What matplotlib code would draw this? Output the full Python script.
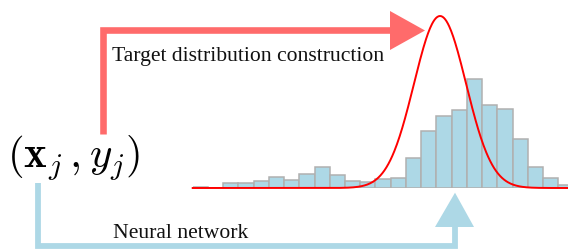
import numpy as np
import matplotlib
matplotlib.use("Agg")
import matplotlib.pyplot as plt
from matplotlib.patches import Polygon

# ---- data ----
bin_index = list(range(25))
counts = [0.7, 0.0, 5.0, 4.7, 6.7, 10.7, 8.0, 14.0, 21.3, 12.7, 7.0, 5.7, 9.0,
          10.0, 30.0, 56.7, 71.7, 77.7, 108.7, 82.7, 79.0, 48.7, 21.0, 10.0, 3.0]
target_mu = 16.24
target_sigma = 1.71
target_peak = 172.0
label_target = "Target distribution construction"
label_net = "Neural network"
label_input = r"$(\mathbf{x}_j\,, y_j)$"

plt.rcParams['mathtext.fontset'] = 'cm'

W, H = 568, 249
fig = plt.figure(figsize=(W / 100, H / 100), dpi=100)
bg = fig.add_axes([0, 0, 1, 1])
bg.set_xlim(0, W)
bg.set_ylim(H, 0)
bg.axis('off')

red_arrow = '#ff6b6b'
blue_arrow = '#add8e6'

# red arrow (target construction)
bg.plot([102.7, 102.7, 392], [134, 30, 30], color=red_arrow, lw=6.6 * 0.72,
        solid_joinstyle='miter', solid_capstyle='butt')
bg.add_patch(Polygon([[390, 11], [425, 30.5], [390, 50]], closed=True,
                     facecolor=red_arrow, edgecolor='none'))

# blue arrow (neural network)
bg.plot([38, 38, 454.5, 454.5], [183, 246.3, 246.3, 225], color=blue_arrow,
        lw=5.8 * 0.72, solid_joinstyle='miter', solid_capstyle='butt')
bg.add_patch(Polygon([[435, 227], [455, 192.7], [474, 227]], closed=True,
                     facecolor=blue_arrow, edgecolor='none'))

serif = ['Liberation Serif', 'DejaVu Serif']
bg.text(112, 60.5, label_target, family=serif, fontsize=15.6, ha='left',
        va='baseline', color='#111111')
bg.text(113, 237.5, label_net, family=serif, fontsize=15.6, ha='left',
        va='baseline', color='#111111')
bg.text(7, 168, label_input, fontsize=31, ha='left', va='baseline', color='black')

# histogram + target curve
x0, bw, base = 192.7, 15.23, 188.0
hx = fig.add_axes([x0 / W, (H - base) / H, (W - x0) / W, base / H])
hx.set_xlim(0, (W - x0) / bw)
hx.set_ylim(0, base)
hx.axis('off')
hx.bar(np.array(bin_index), counts, width=1.0, align='edge', color='#add8e6',
       edgecolor='#b0b0b0', linewidth=1.1, zorder=1)
xs = np.linspace(0, 26, 600)
ys = target_peak * np.exp(-0.5 * ((xs - target_mu) / target_sigma) ** 2)
hx.plot(xs, ys, color='red', lw=1.4, zorder=3, clip_on=False)

fig.savefig('out.png', dpi=100)
